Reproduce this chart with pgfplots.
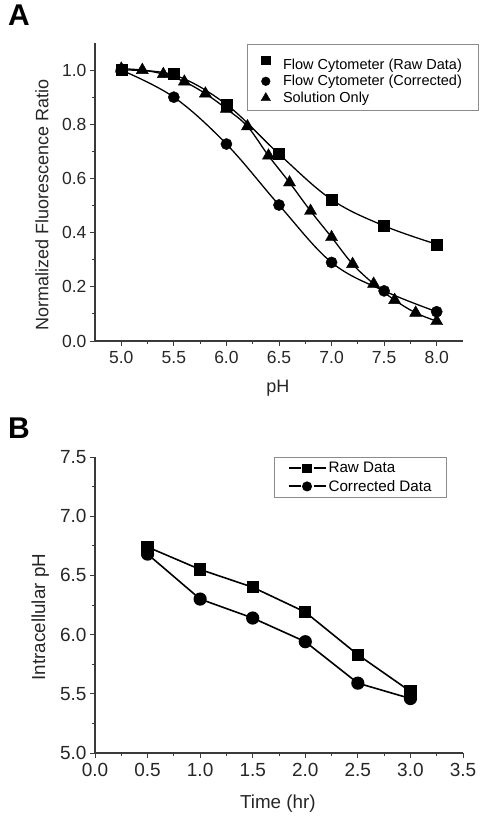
\documentclass[border=0pt]{standalone}
\usepackage{pgfplots}
\pgfplotsset{compat=1.18}
\usepackage{fontspec}
\setmainfont{Liberation Sans}
\definecolor{axgray}{HTML}{3A3A3A}
\begin{document}
\begin{tikzpicture}
\useasboundingbox (-95pt,341pt) rectangle (387pt,-476pt);
\pgfplotsset{
  common/.style={
    scale only axis, width=368pt,
    axis lines=left,
    axis line style={-, line width=1.1pt, color=axgray},
    tick style={line width=0.9pt, color=axgray},
    tick align=outside, major tick length=5pt, minor tick length=3pt,
    minor tick num=1,
    /pgf/number format/assume math mode=true,
    xticklabel style={yshift=-2pt, /pgf/number format/fixed, /pgf/number format/fixed zerofill, /pgf/number format/precision=1},
    yticklabel style={/pgf/number format/fixed, /pgf/number format/fixed zerofill, /pgf/number format/precision=1},
    legend cell align=left,
  },
}
% ---------------- Panel A ----------------
\begin{axis}[common,
  at={(0pt,0pt)}, anchor=south west,
  height=298pt,
  xmin=4.75, xmax=8.25, ymin=0, ymax=1.1,
  xtick={5,5.5,...,8}, ytick={0,0.2,...,1.0},
  tick label style={font=\fontsize{17.5}{17.5}\selectfont, color=black!85},
  xlabel={pH}, ylabel={Normalized Fluorescence Ratio},
  label style={font=\fontsize{18}{18}\selectfont, color=black!85},
  x label style={at={(axis description cs:0.497,-0.158)}, anchor=center},
  y label style={at={(axis description cs:-0.144,0.456)}, anchor=center},
  legend style={at={(axis description cs:1.041,0.997)}, anchor=north east,
    draw=black!45, font=\fontsize{14.5}{14.5}\selectfont,
    row sep=0.7pt, inner xsep=14pt, inner ysep=4pt},
  legend image code/.code={\draw[#1, every mark/.append style={scale=0.78}] plot coordinates {(0pt,0pt)}; \path (0pt,0pt) (15pt,0pt);},
]
\addplot[black, line width=1.3pt, smooth, tension=0.6, forget plot] coordinates {
(5.0,1.0)(5.5,0.982)(6.0,0.873)(6.5,0.69)(7.0,0.522)(7.5,0.425)(8.0,0.357)};
\addplot[black, line width=1.3pt, smooth, tension=0.6, forget plot] coordinates {
(5.0,1.0)(5.5,0.90)(6.0,0.727)(6.5,0.502)(7.0,0.29)(7.5,0.185)(8.0,0.108)};
\addplot[black, line width=1.3pt, smooth, tension=0.6, forget plot] coordinates {
(5.0,1.005)(5.2,1.0)(5.4,0.985)(5.6,0.957)(5.8,0.913)(6.0,0.857)(6.2,0.792)(6.4,0.684)(6.6,0.585)(6.8,0.48)(7.0,0.383)(7.2,0.284)(7.4,0.211)(7.6,0.151)(7.8,0.104)(8.0,0.073)};
\addplot[only marks, mark=square*, mark size=5.5pt, mark options={fill=black, draw=black}] coordinates {
(5.0,1.0)(5.5,0.985)(6.0,0.873)(6.5,0.69)(7.0,0.522)(7.5,0.425)(8.0,0.357)};
\addlegendentry{\rule{0pt}{19pt}Flow Cytometer (Raw Data)}
\addplot[only marks, mark=*, mark size=5.6pt, mark options={fill=black, draw=black}] coordinates {
(5.0,1.0)(5.5,0.90)(6.0,0.727)(6.5,0.502)(7.0,0.29)(7.5,0.185)(8.0,0.108)};
\addlegendentry{Flow Cytometer (Corrected)}
\addplot[only marks, mark=triangle*, mark size=7pt, mark options={fill=black, draw=black}] coordinates {
(5.0,1.005)(5.2,1.0)(5.4,0.985)(5.6,0.957)(5.8,0.913)(6.0,0.857)(6.2,0.792)(6.4,0.684)(6.6,0.585)(6.8,0.48)(7.0,0.383)(7.2,0.284)(7.4,0.211)(7.6,0.151)(7.8,0.104)(8.0,0.073)};
\addlegendentry{Solution Only}
\end{axis}
% ---------------- Panel B ----------------
\begin{axis}[common,
  at={(0pt,-412pt)}, anchor=south west,
  height=296pt,
  xmin=0, xmax=3.5, ymin=5.0, ymax=7.5,
  xtick={0,0.5,...,3.5}, ytick={5,5.5,...,7.5},
  tick label style={font=\fontsize{19}{19}\selectfont, color=black!85},
  xlabel={Time (hr)}, ylabel={Intracellular pH},
  label style={font=\fontsize{18.8}{18.8}\selectfont, color=black!85},
  x label style={at={(axis description cs:0.497,-0.172)}, anchor=center},
  y label style={at={(axis description cs:-0.149,0.459)}, anchor=center},
  legend style={at={(axis description cs:0.956,1.0)}, anchor=north east,
    draw=black!45, font=\fontsize{15.2}{15.2}\selectfont,
    row sep=2pt, inner xsep=13pt, inner ysep=3pt},
  legend image code/.code={%
    \draw[#1, line width=2pt] (0pt,0pt) -- (12pt,0pt);
    \draw[#1, line width=2pt] (25pt,0pt) -- (37pt,0pt);
    \draw[#1, every mark/.append style={scale=0.72}] plot coordinates {(18.5pt,0pt)};},
]
\addplot[black, line width=1.6pt, mark=square*, mark size=5.3pt, mark options={fill=black, draw=black, solid}] coordinates {
(0.5,6.74)(1.0,6.55)(1.5,6.40)(2.0,6.19)(2.5,5.83)(3.0,5.52)};
\addlegendentry{Raw Data}
\addplot[black, line width=1.6pt, mark=*, mark size=5.8pt, mark options={fill=black, draw=black, solid}] coordinates {
(0.5,6.68)(1.0,6.30)(1.5,6.14)(2.0,5.94)(2.5,5.59)(3.0,5.46)};
\addlegendentry{Corrected Data}
\end{axis}
\node[anchor=north west, inner sep=0pt, font=\fontsize{30}{30}\selectfont\bfseries] at (-87pt,336pt) {A};
\node[anchor=north west, inner sep=0pt, font=\fontsize{30}{30}\selectfont\bfseries] at (-87pt,-77pt) {B};
\end{tikzpicture}
\end{document}
